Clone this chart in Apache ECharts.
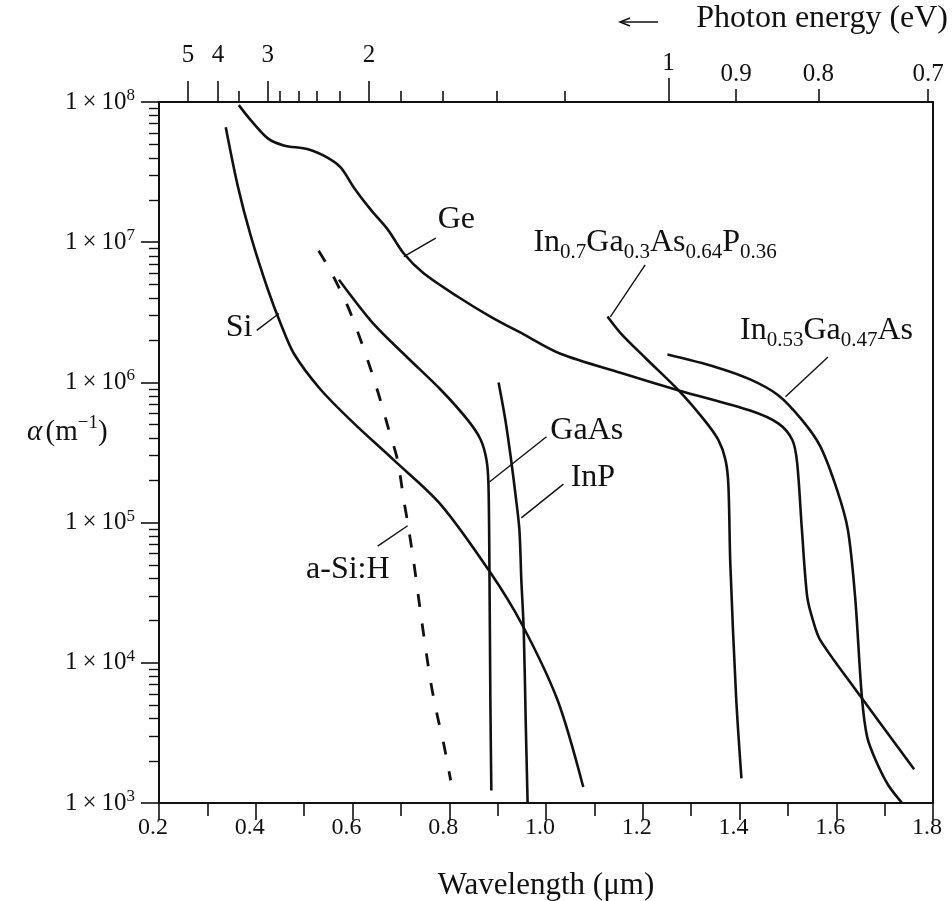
<!DOCTYPE html>
<html><head><meta charset="utf-8">
<script src="https://cdn.jsdelivr.net/npm/echarts@6/dist/echarts.min.js"></script>
<style>html,body{margin:0;padding:0;background:#fff}#c{width:952px;height:901px}</style>
</head><body><div id="c"></div>
<script>
// ---- data (wavelength in µm, absorption coefficient α in m^-1) ----
const Si = [[0.338,6.6e7],[0.363,2.5e7],[0.390,1.1e7],[0.425,4.6e6],[0.452,2.6e6],[0.479,1.6e6],[0.534,8.9e5],[0.603,5.1e5],[0.685,2.8e5],[0.782,1.35e5],[0.885,4.4e4],[0.951,1.86e4],[1.024,5.4e3],[1.077,1.3e3]];
const Ge = [[0.365,9.5e7],[0.390,7.4e7],[0.425,5.5e7],[0.458,4.9e7],[0.508,4.6e7],[0.549,4.0e7],[0.576,3.4e7],[0.603,2.45e7],[0.638,1.7e7],[0.673,1.23e7],[0.706,8.3e6],[0.747,6.0e6],[0.817,4.1e6],[0.885,2.95e6],[0.954,2.2e6],[1.030,1.6e6],[1.154,1.17e6],[1.278,8.7e5],[1.422,6.3e5],[1.480,5.1e5],[1.509,3.9e5],[1.519,2.7e5],[1.529,8.9e4],[1.540,2.95e4],[1.552,2.0e4],[1.567,1.45e4],[1.639,6.5e3],[1.761,1.74e3]];
const aSiH = [[0.530,8.7e6],[0.555,6.2e6],[0.590,3.5e6],[0.617,2.0e6],[0.638,1.23e6],[0.658,7.4e5],[0.675,4.6e5],[0.693,2.8e5],[0.706,1.45e5],[0.714,1.0e5],[0.726,5.4e4],[0.743,2.0e4],[0.762,7.2e3],[0.776,4.1e3],[0.788,2.7e3],[0.803,1.45e3]];
const GaAs = [[0.572,5.4e6],[0.644,2.6e6],[0.714,1.5e6],[0.782,8.9e5],[0.838,5.4e5],[0.865,3.9e5],[0.877,2.8e5],[0.881,1.9e5],[0.883,5.1e4],[0.885,5.4e3],[0.887,1.23e3]];
const InP = [[0.902,1.0e6],[0.916,5.4e5],[0.927,2.95e5],[0.937,1.58e5],[0.945,8.9e4],[0.949,3.9e4],[0.954,1.7e4],[0.958,3.9e3],[0.962,1.0e3]];
const InGaAsP = [[1.127,2.95e6],[1.154,2.25e6],[1.205,1.5e6],[1.278,8.5e5],[1.327,5.4e5],[1.356,3.9e5],[1.371,2.8e5],[1.377,1.86e5],[1.381,5.1e4],[1.393,5.7e3],[1.404,1.5e3]];
const InGaAs = [[1.251,1.58e6],[1.350,1.29e6],[1.422,1.05e6],[1.480,8.1e5],[1.529,5.4e5],[1.567,3.5e5],[1.602,1.7e5],[1.624,8.9e4],[1.639,2.95e4],[1.653,5.7e3],[1.664,2.95e3],[1.682,2.0e3],[1.707,1.35e3],[1.736,1.0e3]];

// ---- axis tick labels ----
const xTickLabels = ['0.2','0.4','0.6','0.8','1.0','1.2','1.4','1.6','1.8'];
// top photon-energy axis: labels and the wavelengths where the picture puts them
const topHighLabels = ['5','4','3','2'];
const topHighWl = [0.260, 0.322, 0.425, 0.634];
const topOneLabels = ['1'];
const topOneWl = [1.253];
const topLowLabels = ['0.9','0.8','0.7'];
const topLowWl = [1.393, 1.563, 1.790];
const topMinorWl = [0.365, 0.450, 0.488, 0.526, 0.574, 0.700, 0.787, 0.899, 1.039];

// ---- curve labels and leader lines ----
const labelTexts = ['Ge','Si','a-Si:H','GaAs','InP',
  'In{s|0.7}Ga{s|0.3}As{s|0.64}P{s|0.36}','In{s|0.53}Ga{s|0.47}As'];
const labelAt = [[0.776,1.44e7],[0.338,2.44e6],[0.504,4.6e4],[1.009,4.5e5],[1.051,2.08e5],[0.974,9.9e6],[1.401,2.33e6]];
const leaderFrom = [[0.706,7.9e6],[0.402,2.35e6],[0.652,6.8e4],[0.883,1.95e5],[0.949,1.08e5],[1.133,2.93e6],[1.495,7.9e5]];
const leaderTo   = [[0.772,1.07e7],[0.448,3.1e6],[0.714,9.5e4],[1.001,4.1e5],[1.036,1.88e5],[1.205,6.9e6],[1.583,1.52e6]];

const FONT = '"Liberation Serif", "Times New Roman", serif';
const INK = '#111111';

const yMinor = [];
for (let n = 3; n < 8; n++) for (let k = 2; k <= 9; k++) yMinor.push(Math.log10(k) + n);

function nearestLabel(v, pos, labels) {
  let bi = 0, bd = Infinity;
  pos.forEach((p, i) => { const d = Math.abs(p - v); if (d < bd) { bd = d; bi = i; } });
  return labels[bi];
}

const topBase = {
  type: 'value', position: 'top', min: 0.2, max: 1.8, gridIndex: 0,
  axisLine: { show: true, lineStyle: { color: INK, width: 2 } },
  splitLine: { show: false }
};
function topAxis(wl, labels, tickLen, margin) {
  return Object.assign({}, topBase, {
    axisTick: { show: true, customValues: wl, length: tickLen, lineStyle: { color: INK, width: 1.6 } },
    axisLabel: labels ? { show: true, customValues: wl, margin: margin, color: INK,
      fontFamily: FONT, fontSize: 25, formatter: v => nearestLabel(v, wl, labels) } : { show: false }
  });
}

const curveStyle = { color: INK, width: 2.6 };
function curve(name, data, dashed) {
  return { name, type: 'line', data, xAxisIndex: 0, yAxisIndex: 0, showSymbol: false, symbol: 'none',
    smooth: 0.3, silent: true, lineStyle: Object.assign({}, curveStyle, dashed ? { type: [13, 17], width: 2.8 } : {}) };
}

const series = [
  curve('Si', Si), curve('Ge', Ge), curve('a-Si:H', aSiH, true), curve('GaAs', GaAs),
  curve('InP', InP), curve('InGaAsP', InGaAsP), curve('InGaAs', InGaAs)
];
leaderFrom.forEach((f, i) => {
  series.push({ type: 'line', data: [f, leaderTo[i]], symbol: 'none', silent: true,
    lineStyle: { color: INK, width: 1.4 }, xAxisIndex: 0, yAxisIndex: 0 });
});
series.push({
  type: 'scatter', xAxisIndex: 0, yAxisIndex: 0, symbolSize: 0, silent: true,
  itemStyle: { opacity: 1 },
  data: labelAt.map((p, i) => ({ value: p, name: labelTexts[i] })),
  label: { show: true, position: 'right', distance: 0, color: INK, opacity: 1,
    formatter: p => '{m|' + p.name.replace(/\{s\|([^}]*)\}/g, '}{s|$1}{m|') + '}',
    rich: {
      m: { fontFamily: FONT, fontSize: 32, color: INK, lineHeight: 40 },
      s: { fontFamily: FONT, fontSize: 21, color: INK, lineHeight: 19, verticalAlign: 'bottom' }
    }
  }
});

const chart = echarts.init(document.getElementById('c'));
chart.setOption({
  animation: false,
  backgroundColor: '#fff',
  grid: { left: 159, right: 19, top: 102, bottom: 98, show: true, borderColor: INK, borderWidth: 2,
    outerBoundsMode: 'none', containLabel: false },
  xAxis: [
    { type: 'value', position: 'bottom', min: 0.2, max: 1.8, interval: 0.2,
      axisLine: { show: true, lineStyle: { color: INK, width: 2 } },
      axisTick: { show: true, length: 17, lineStyle: { color: INK, width: 1.6 } },
      minorTick: { show: true, splitNumber: 2, length: 13, lineStyle: { color: INK, width: 1.6 } },
      splitLine: { show: false },
      axisLabel: { margin: 13, color: INK, fontFamily: FONT, fontSize: 24, padding: [0, 12, 0, 0],
        formatter: v => xTickLabels[Math.round((v - 0.2) / 0.2)] },
      name: 'Wavelength (μm)', nameLocation: 'middle', nameGap: 67,
      nameTextStyle: { color: INK, fontFamily: FONT, fontSize: 31 } },
    topAxis(topHighWl, topHighLabels, 21, 34),
    topAxis(topOneWl, topOneLabels, 24, 26),
    topAxis(topLowWl, topLowLabels, 13, 15),
    topAxis(topMinorWl, null, 11, 0)
  ],
  yAxis: [
    { type: 'log', logBase: 10, min: 1e3, max: 1e8, position: 'left',
      axisLine: { show: true, lineStyle: { color: INK, width: 2 } },
      axisTick: { show: true, length: 18, lineStyle: { color: INK, width: 1.6 } },
      splitLine: { show: false },
      axisLabel: { margin: 24, color: INK,
        formatter: v => '{b|1\u2009×\u200910}{p|' + Math.round(Math.log10(v)) + '}',
        rich: {
          b: { fontFamily: FONT, fontSize: 25, color: INK, lineHeight: 30 },
          p: { fontFamily: FONT, fontSize: 17, color: INK, lineHeight: 14, verticalAlign: 'top' }
        } } },
    { type: 'value', min: 3, max: 8, position: 'left',
      axisLine: { show: false }, splitLine: { show: false }, axisLabel: { show: false },
      axisTick: { show: true, customValues: yMinor, length: 10, lineStyle: { color: INK, width: 1.4 } } }
  ],
  graphic: [
    { type: 'text', right: 4, top: 3, style: { text: 'Photon energy (eV)', font: '32px ' + FONT, fill: INK } },
    { type: 'line', shape: { x1: 620, y1: 22, x2: 658, y2: 22 }, style: { stroke: INK, lineWidth: 1.5 } },
    { type: 'polyline', shape: { points: [[630, 18], [620, 22], [630, 26]] }, style: { stroke: INK, lineWidth: 1.5, fill: null } },
    { type: 'text', left: 27, top: 414, style: {
        text: '{a|α} {b|(m}{p|−1}{b|)}',
        rich: {
          a: { fontFamily: FONT, fontSize: 29, fontStyle: 'italic', fill: INK, lineHeight: 36 },
          b: { fontFamily: FONT, fontSize: 29, fill: INK, lineHeight: 36 },
          p: { fontFamily: FONT, fontSize: 19, fill: INK, lineHeight: 18, verticalAlign: 'top' }
        } } }
  ],
  series
});
</script>
</body></html>
